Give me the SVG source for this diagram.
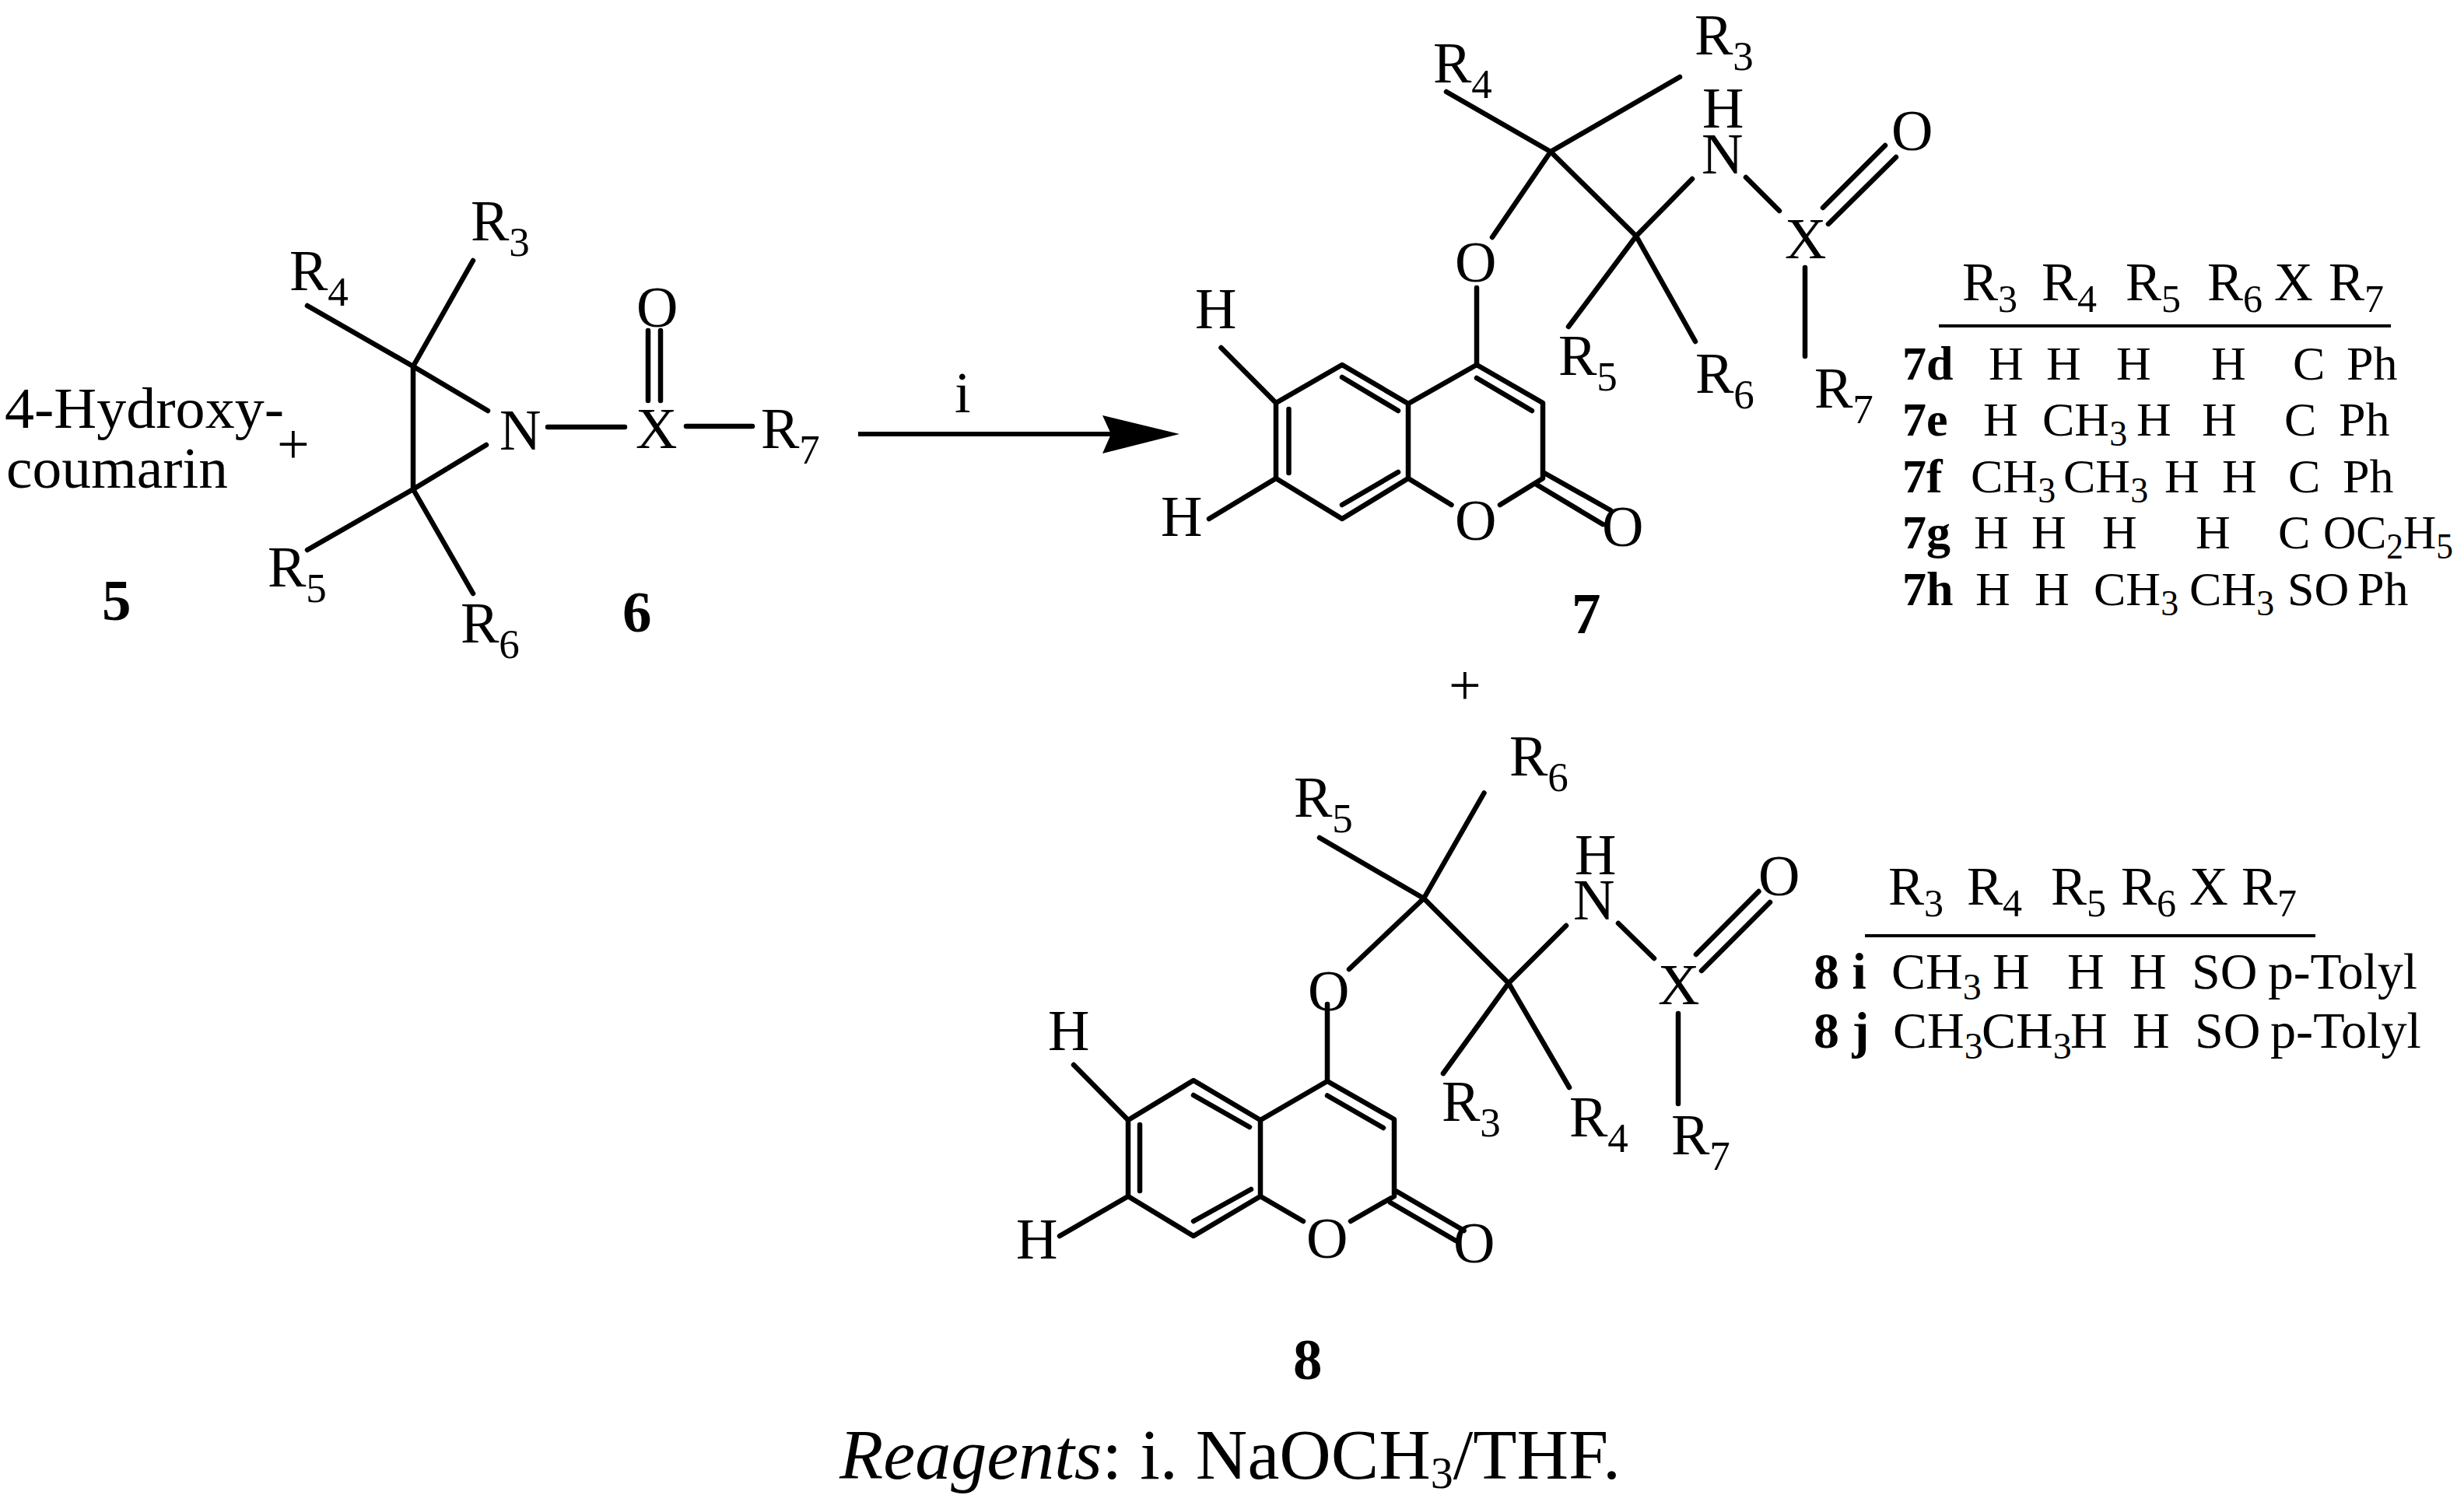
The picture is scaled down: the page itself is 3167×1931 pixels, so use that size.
<svg xmlns="http://www.w3.org/2000/svg" width="3167" height="1931" viewBox="0 0 3167 1931">
<style>
text{font-family:"Liberation Serif","Times New Roman",serif;fill:#000}
.l{font-size:74px}.l .s{font-size:53px}
.h{font-size:69px}.h .s{font-size:50px}
.r{font-size:62px}.r .s{font-size:46px}
.t{font-size:66px}.t .s{font-size:48px}
.n{font-size:75px;font-weight:bold}
.b{font-weight:bold}
.g{font-size:92px}.g .s{font-size:58px}
.bond{fill:none;stroke:#000;stroke-width:6.500;stroke-linecap:round;stroke-linejoin:round}
.rule{fill:none;stroke:#000;stroke-width:4}
</style>
<rect width="3167" height="1931" fill="#fff"/>
<g id="reactant-5">
<text class="l" x="6" y="550" textLength="359" lengthAdjust="spacingAndGlyphs">4-Hydroxy-</text>
<text class="l" x="8" y="627" textLength="285" lengthAdjust="spacingAndGlyphs">coumarin</text>
<text class="n" x="131" y="797">5</text>
</g>
<g id="plus-1"><text class="l" x="356" y="596">+</text></g>
<g id="reactant-6">
<path class="bond" d="M395 393L531 471L627 528M608 335L531 471V629L625 572M395 707L531 629L608 763M704 549H803M882 548H967M833 425V515M849 425V515"/>
<text class="l" x="605" y="309">R<tspan class="s" dy="20">3</tspan></text>
<text class="l" x="372" y="373">R<tspan class="s" dy="20">4</tspan></text>
<text class="l" x="344" y="754">R<tspan class="s" dy="20">5</tspan></text>
<text class="l" x="592" y="826">R<tspan class="s" dy="20">6</tspan></text>
<text class="l" x="642" y="578">N</text>
<text class="l" x="817" y="576">X</text>
<text class="l" x="978" y="576">R<tspan class="s" dy="20">7</tspan></text>
<text class="l" x="818" y="420">O</text>
<text class="n" x="800" y="812">6</text>
</g>
<g id="connectors">
<path d="M1103 558H1430" fill="none" stroke="#000" stroke-width="6"/>
<path d="M1516 558L1417 534L1428 558L1417 583Z" fill="#000"/>
</g>
<g id="reagent-label"><text class="l" x="1227" y="530">i</text></g>
<g id="product-7">
<path class="bond" d="M1859 118L1993 195L2103 303.500M2159 99L1993 195L1918 305M1898 370V469M2175 230L2103 303.500L2016 420M2103 303.500L2179 439M2244 228L2287 271M2320 344V458M2343 267L2423 187M2350 288L2437 202"/>
<path class="bond" d="M1569.500 447L1640 518L1725 469L1810 519V615L1725 667L1640 615V518M1810 519L1898 469L1983 518V615L1928 649M1810 615L1865.500 649M1640 615L1554 667M1656.500 526V608M1725 485L1797 528M1797 607L1725 649M1898 486L1969 528M1983 607L2070 656M1975 623L2060 674"/>
<text class="l" x="2178" y="70">R<tspan class="s" dy="20">3</tspan></text>
<text class="l" x="1842" y="106">R<tspan class="s" dy="20">4</tspan></text>
<text class="l" x="2003" y="482">R<tspan class="s" dy="20">5</tspan></text>
<text class="l" x="2179" y="505">R<tspan class="s" dy="20">6</tspan></text>
<text class="l" x="2332" y="524">R<tspan class="s" dy="20">7</tspan></text>
<text class="l" x="2188" y="164">H</text>
<text class="l" x="2187" y="223">N</text>
<text class="l" x="2294" y="332">X</text>
<text class="l" x="2431" y="193">O</text>
<text class="l" x="1870" y="362">O</text>
<text class="l" x="1870" y="694">O</text>
<text class="l" x="2059" y="702">O</text>
<text class="l" x="1536" y="422">H</text>
<text class="l" x="1492" y="689">H</text>
<text class="n" x="2020" y="814">7</text>
</g>
<g id="table-7">
<g class="h">
<text x="2522" y="386">R<tspan class="s" dy="15">3</tspan></text>
<text x="2624" y="386">R<tspan class="s" dy="15">4</tspan></text>
<text x="2732" y="386">R<tspan class="s" dy="15">5</tspan></text>
<text x="2837" y="386">R<tspan class="s" dy="15">6</tspan></text>
<text x="2923" y="386">X</text>
<text x="2993" y="386">R<tspan class="s" dy="15">7</tspan></text>
</g>
<path class="rule" d="M2492 419H3073"/>
<g class="r">
<text class="b" x="2445" y="488">7d</text>
<text x="2556" y="488">H</text><text x="2630" y="488">H</text><text x="2720" y="488">H</text><text x="2842" y="488">H</text><text x="2947" y="488">C</text><text x="3016" y="488">Ph</text>
<text class="b" x="2445" y="560">7e</text>
<text x="2549" y="560">H</text><text x="2625" y="560">CH<tspan class="s" dy="13">3</tspan></text><text x="2746" y="560">H</text><text x="2830" y="560">H</text><text x="2936" y="560">C</text><text x="3006" y="560">Ph</text>
<text class="b" x="2445" y="633">7f</text>
<text x="2533" y="633">CH<tspan class="s" dy="13">3</tspan></text><text x="2652" y="633">CH<tspan class="s" dy="13">3</tspan></text><text x="2782" y="633">H</text><text x="2856" y="633">H</text><text x="2941" y="633">C</text><text x="3011" y="633">Ph</text>
<text class="b" x="2445" y="705">7g</text>
<text x="2537" y="705">H</text><text x="2611" y="705">H</text><text x="2702" y="705">H</text><text x="2822" y="705">H</text><text x="2928" y="705">C</text><text x="2986" y="705" textLength="167" lengthAdjust="spacingAndGlyphs">OC<tspan class="s" dy="13">2</tspan><tspan dy="-13">H</tspan><tspan class="s" dy="13">5</tspan></text>
<text class="b" x="2445" y="778">7h</text>
<text x="2539" y="778">H</text><text x="2615" y="778">H</text><text x="2691" y="778">CH<tspan class="s" dy="13">3</tspan></text><text x="2814" y="778">CH<tspan class="s" dy="13">3</tspan></text><text x="2940" y="778">SO</text><text x="3030" y="778">Ph</text>
</g>
</g>
<g id="plus-2"><text class="l" x="1862" y="906">+</text></g>
<g id="product-8">
<path class="bond" d="M1696 1077L1830 1155L1939 1264M1907.500 1019.500L1830 1155L1734 1246M1706 1291V1390M2013 1190L1939 1264L1855 1380M1939 1264L2017 1398M2080 1187L2126 1232M2157 1303V1419M2180 1227L2260.500 1146M2187 1248L2275 1160"/>
<path class="bond" d="M1380 1369L1450 1440L1534 1389L1620 1440V1538L1534 1589L1450 1538V1440M1620 1440L1706 1390L1792 1439V1538L1736 1570M1620 1538L1675 1570M1450 1538L1362 1589M1465 1446V1531M1534 1408L1606 1449M1608 1529L1534 1570M1706 1408.500L1778 1450M1794 1531L1881.600 1582M1787 1546L1871 1595"/>
<text class="l" x="1940" y="997">R<tspan class="s" dy="20">6</tspan></text>
<text class="l" x="1663" y="1050">R<tspan class="s" dy="20">5</tspan></text>
<text class="l" x="1853" y="1441">R<tspan class="s" dy="20">3</tspan></text>
<text class="l" x="2017" y="1461">R<tspan class="s" dy="20">4</tspan></text>
<text class="l" x="2148" y="1484">R<tspan class="s" dy="20">7</tspan></text>
<text class="l" x="2024" y="1124">H</text>
<text class="l" x="2022" y="1182">N</text>
<text class="l" x="2131" y="1291">X</text>
<text class="l" x="2260" y="1151">O</text>
<text class="l" x="1681" y="1299">O</text>
<text class="l" x="1679" y="1617">O</text>
<text class="l" x="1868" y="1623">O</text>
<text class="l" x="1347" y="1350">H</text>
<text class="l" x="1306" y="1618">H</text>
<text class="n" x="1662" y="1773">8</text>
</g>
<g id="table-8">
<g class="h">
<text x="2427" y="1163">R<tspan class="s" dy="15">3</tspan></text>
<text x="2528" y="1163">R<tspan class="s" dy="15">4</tspan></text>
<text x="2636" y="1163">R<tspan class="s" dy="15">5</tspan></text>
<text x="2726" y="1163">R<tspan class="s" dy="15">6</tspan></text>
<text x="2814" y="1163">X</text>
<text x="2881" y="1163">R<tspan class="s" dy="15">7</tspan></text>
</g>
<path class="rule" d="M2397 1203H2976"/>
<g class="t">
<text class="b" x="2331" y="1271">8 i</text>
<text x="2431" y="1271">CH<tspan class="s" dy="14">3</tspan></text><text x="2561" y="1271">H</text><text x="2657" y="1271">H</text><text x="2737" y="1271">H</text><text x="2817" y="1271">SO</text><text x="2915" y="1271" textLength="192" lengthAdjust="spacingAndGlyphs">p-Tolyl</text>
<text class="b" x="2331" y="1347">8 j</text>
<text x="2433" y="1347">CH<tspan class="s" dy="14">3</tspan></text><text x="2547" y="1347">CH<tspan class="s" dy="14">3</tspan></text><text x="2661" y="1347">H</text><text x="2741" y="1347">H</text><text x="2821" y="1347">SO</text><text x="2918" y="1347" textLength="194" lengthAdjust="spacingAndGlyphs">p-Tolyl</text>
</g>
</g>
<g id="reagents"><text class="g" x="1079" y="1901" textLength="1004" lengthAdjust="spacingAndGlyphs"><tspan font-style="italic">Reagents</tspan>: i. NaOCH<tspan class="s" dy="12">3</tspan><tspan dy="-12">/THF.</tspan></text></g>
</svg>
